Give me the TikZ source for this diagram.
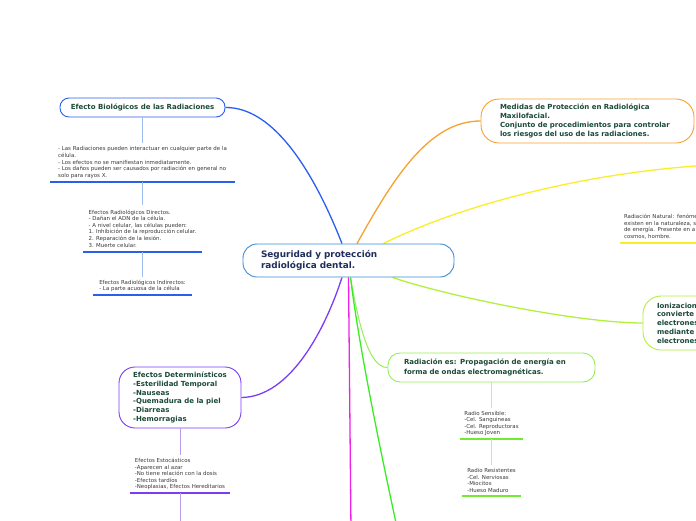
\documentclass[tikz,border=0pt]{standalone}
\usepackage{fontspec}
\setmainfont{DejaVu Sans}
\usetikzlibrary{backgrounds}
\definecolor{ctext}{HTML}{1F2D5C}
\definecolor{ntext}{HTML}{1B4A38}
\definecolor{stext}{HTML}{383838}
\definecolor{cblue}{HTML}{3B8BD6}
\definecolor{bblue}{HTML}{2A5EF0}
\definecolor{lblue}{HTML}{9CBCF2}
\definecolor{orng}{HTML}{F7A12E}
\definecolor{yell}{HTML}{F8EE2A}
\definecolor{ygreen}{HTML}{B2F03C}
\definecolor{lgreen}{HTML}{96EE5A}
\definecolor{lgreen2}{HTML}{72EA34}
\definecolor{llgreen}{HTML}{B8F49A}
\definecolor{magn}{HTML}{F020E8}
\definecolor{bgreen}{HTML}{38EE22}
\definecolor{purp}{HTML}{7A3CF4}
\definecolor{lpurp}{HTML}{B89CF2}
\begin{document}
\begin{tikzpicture}[x=1pt,y=-1pt,
 topic/.style={draw, fill=white, line width=0.9pt, text=ntext, font=\fontsize{7}{8.7}\selectfont\bfseries, align=left, inner ysep=0pt},
 note/.style={text=stext, font=\fontsize{5.45}{6.6}\selectfont, align=left, inner xsep=0pt, inner ysep=0pt},
 conn/.style={line width=1.3pt},
 sub/.style={line width=0.8pt},
 uline/.style={line width=1.6pt},
]
\useasboundingbox (0,0) rectangle (696,520);

\node[topic, draw=cblue, text=ctext, font=\fontsize{8.9}{11}\selectfont\bfseries, text width=175pt, inner xsep=18pt, minimum height=33pt, rounded corners=14pt] (c) at (348.5,260.5) {Seguridad y protección\\radiológica dental.};

\node[topic, draw=bblue, minimum width=165pt, minimum height=19pt, rounded corners=9pt] (eb) at (142.5,107.5) {Efecto Biológicos de las Radiaciones};

\node[note, minimum width=184pt, minimum height=39pt] (t1) at (142.5,162.5) {- Las Radiaciones pueden interactuar en cualquier parte de la\\célula.\\- Los efectos no se manifiestan inmediatamente.\\- Los daños pueden ser causados por radiación en general no\\solo para rayos X.};

\node[note, minimum width=118pt, minimum height=47pt] (t2) at (142.5,228.5) {Efectos Radiológicos Directos.\\- Dañan el ADN de la célula.\\- A nivel celular, las células pueden:\\1. Inhibición de la reproducción celular.\\2. Reparación de la lesión.\\3. Muerte celular.};

\node[note, minimum width=98pt, minimum height=18pt] (t3) at (142.5,286) {Efectos Radiológicos Indirectos:\\- La parte acuosa de la célula};

\node[topic, draw=purp, minimum width=122pt, minimum height=61pt, rounded corners=16pt] (det) at (180,397.5) {Efectos Determinísticos\\-Esterilidad Temporal\\-Nauseas\\-Quemadura de la piel\\-Diarreas\\-Hemorragias};

\node[note, minimum width=99pt, minimum height=38pt] (t4) at (180,474) {Efectos Estocásticos\\-Aparecen al azar\\-No tiene relación con la dosis\\-Efectos tardíos\\-Neoplasias, Efectos Hereditarios};

\node[topic, draw=orng, text width=175pt, inner xsep=19pt, minimum height=44pt, rounded corners=18pt] (med) at (587.5,121) {Medidas de Protección en Radiológica\\Maxilofacial.\\Conjunto de procedimientos para controlar\\los riesgos del uso de las radiaciones.};

\node[note, text width=200pt, inner xsep=4pt, minimum height=33pt] (nat) at (724,226.5) {Radiación Natural: fenóme\\existen en la naturaleza, s\\de energía. Presente en a\\cosmos, hombre.};

\node[topic, draw=ygreen, text width=122pt, inner xsep=14pt, minimum height=54pt, rounded corners=18pt] (ion) at (718,323) {Ionizacion\\convierte\\electrones\\mediante\\electrones};

\node[topic, draw=lgreen, font=\fontsize{7}{9.4}\selectfont\bfseries, text width=175pt, inner xsep=16pt, minimum height=29pt, rounded corners=12pt] (re) at (491.5,367.5) {Radiación es: Propagación de energía en\\forma de ondas electromagnéticas.};

\node[note, minimum width=63pt, minimum height=31pt] (rs) at (491.5,423.5) {Radio Sensible:\\-Cel. Sanguineas\\-Cel. Reproductoras\\-Hueso Joven};
\node[note, minimum width=58pt, minimum height=31pt] (rr) at (491.5,480.5) {Radio Resistentes\\-Cel. Nerviosas\\-Miocitos\\-Hueso Maduro};

\coordinate (yend) at (730,164);
\coordinate (mend) at (351,530);
\coordinate (gend) at (398,532);
\coordinate (pend) at (180,530);

\draw[uline,bblue] (t1.south west) -- (t1.south east);
\draw[uline,bblue] (t2.south west) -- (t2.south east);
\draw[uline,bblue] (t3.south west) -- (t3.south east);
\draw[uline,purp] (t4.south west) -- (t4.south east);
\draw[uline,yell] (nat.south west) -- (nat.south east);
\draw[uline,lgreen2] (rs.south west) -- (rs.south east);
\draw[uline,lgreen2] (rr.south west) -- (rr.south east);

\draw[sub,lblue] (eb.south) -- (t1.north);
\draw[sub,lblue] (t1.south) -- (t2.north);
\draw[sub,lblue] (t2.south) -- (t3.north);
\draw[sub,lpurp] (det.south) -- (t4.north);
\draw[sub,lpurp] (t4.south) -- (pend);
\draw[sub,llgreen] (re.south) -- (rs.north);
\draw[sub,llgreen] (rs.south) -- (rr.north);

\begin{scope}[on background layer]
\draw[conn,bblue] ([xshift=-6.5pt]c.north) .. controls (315,175) and (275,107) .. (eb.east);
\draw[conn,orng] ([xshift=8.5pt]c.north) .. controls (395,175) and (430,121) .. (med.west);
\draw[conn,yell] ([xshift=35pt]c.north) .. controls (450,210) and (580,170) .. (yend);
\draw[conn,ygreen] ([xshift=44pt]c.south) .. controls (450,297) and (580,323) .. (ion.west);
\draw[lgreen,line width=1pt] ([xshift=2pt]c.south) .. controls (358,320) and (368,368) .. (re.west);
\draw[conn,magn] (c.south) -- (mend);
\draw[conn,bgreen] ([xshift=2pt]c.south) .. controls (358,340) and (378,440) .. (gend);
\draw[conn,purp] ([xshift=-6.5pt]c.south) .. controls (325,330) and (290,397) .. (det.east);
\end{scope}
\end{tikzpicture}
\end{document}
